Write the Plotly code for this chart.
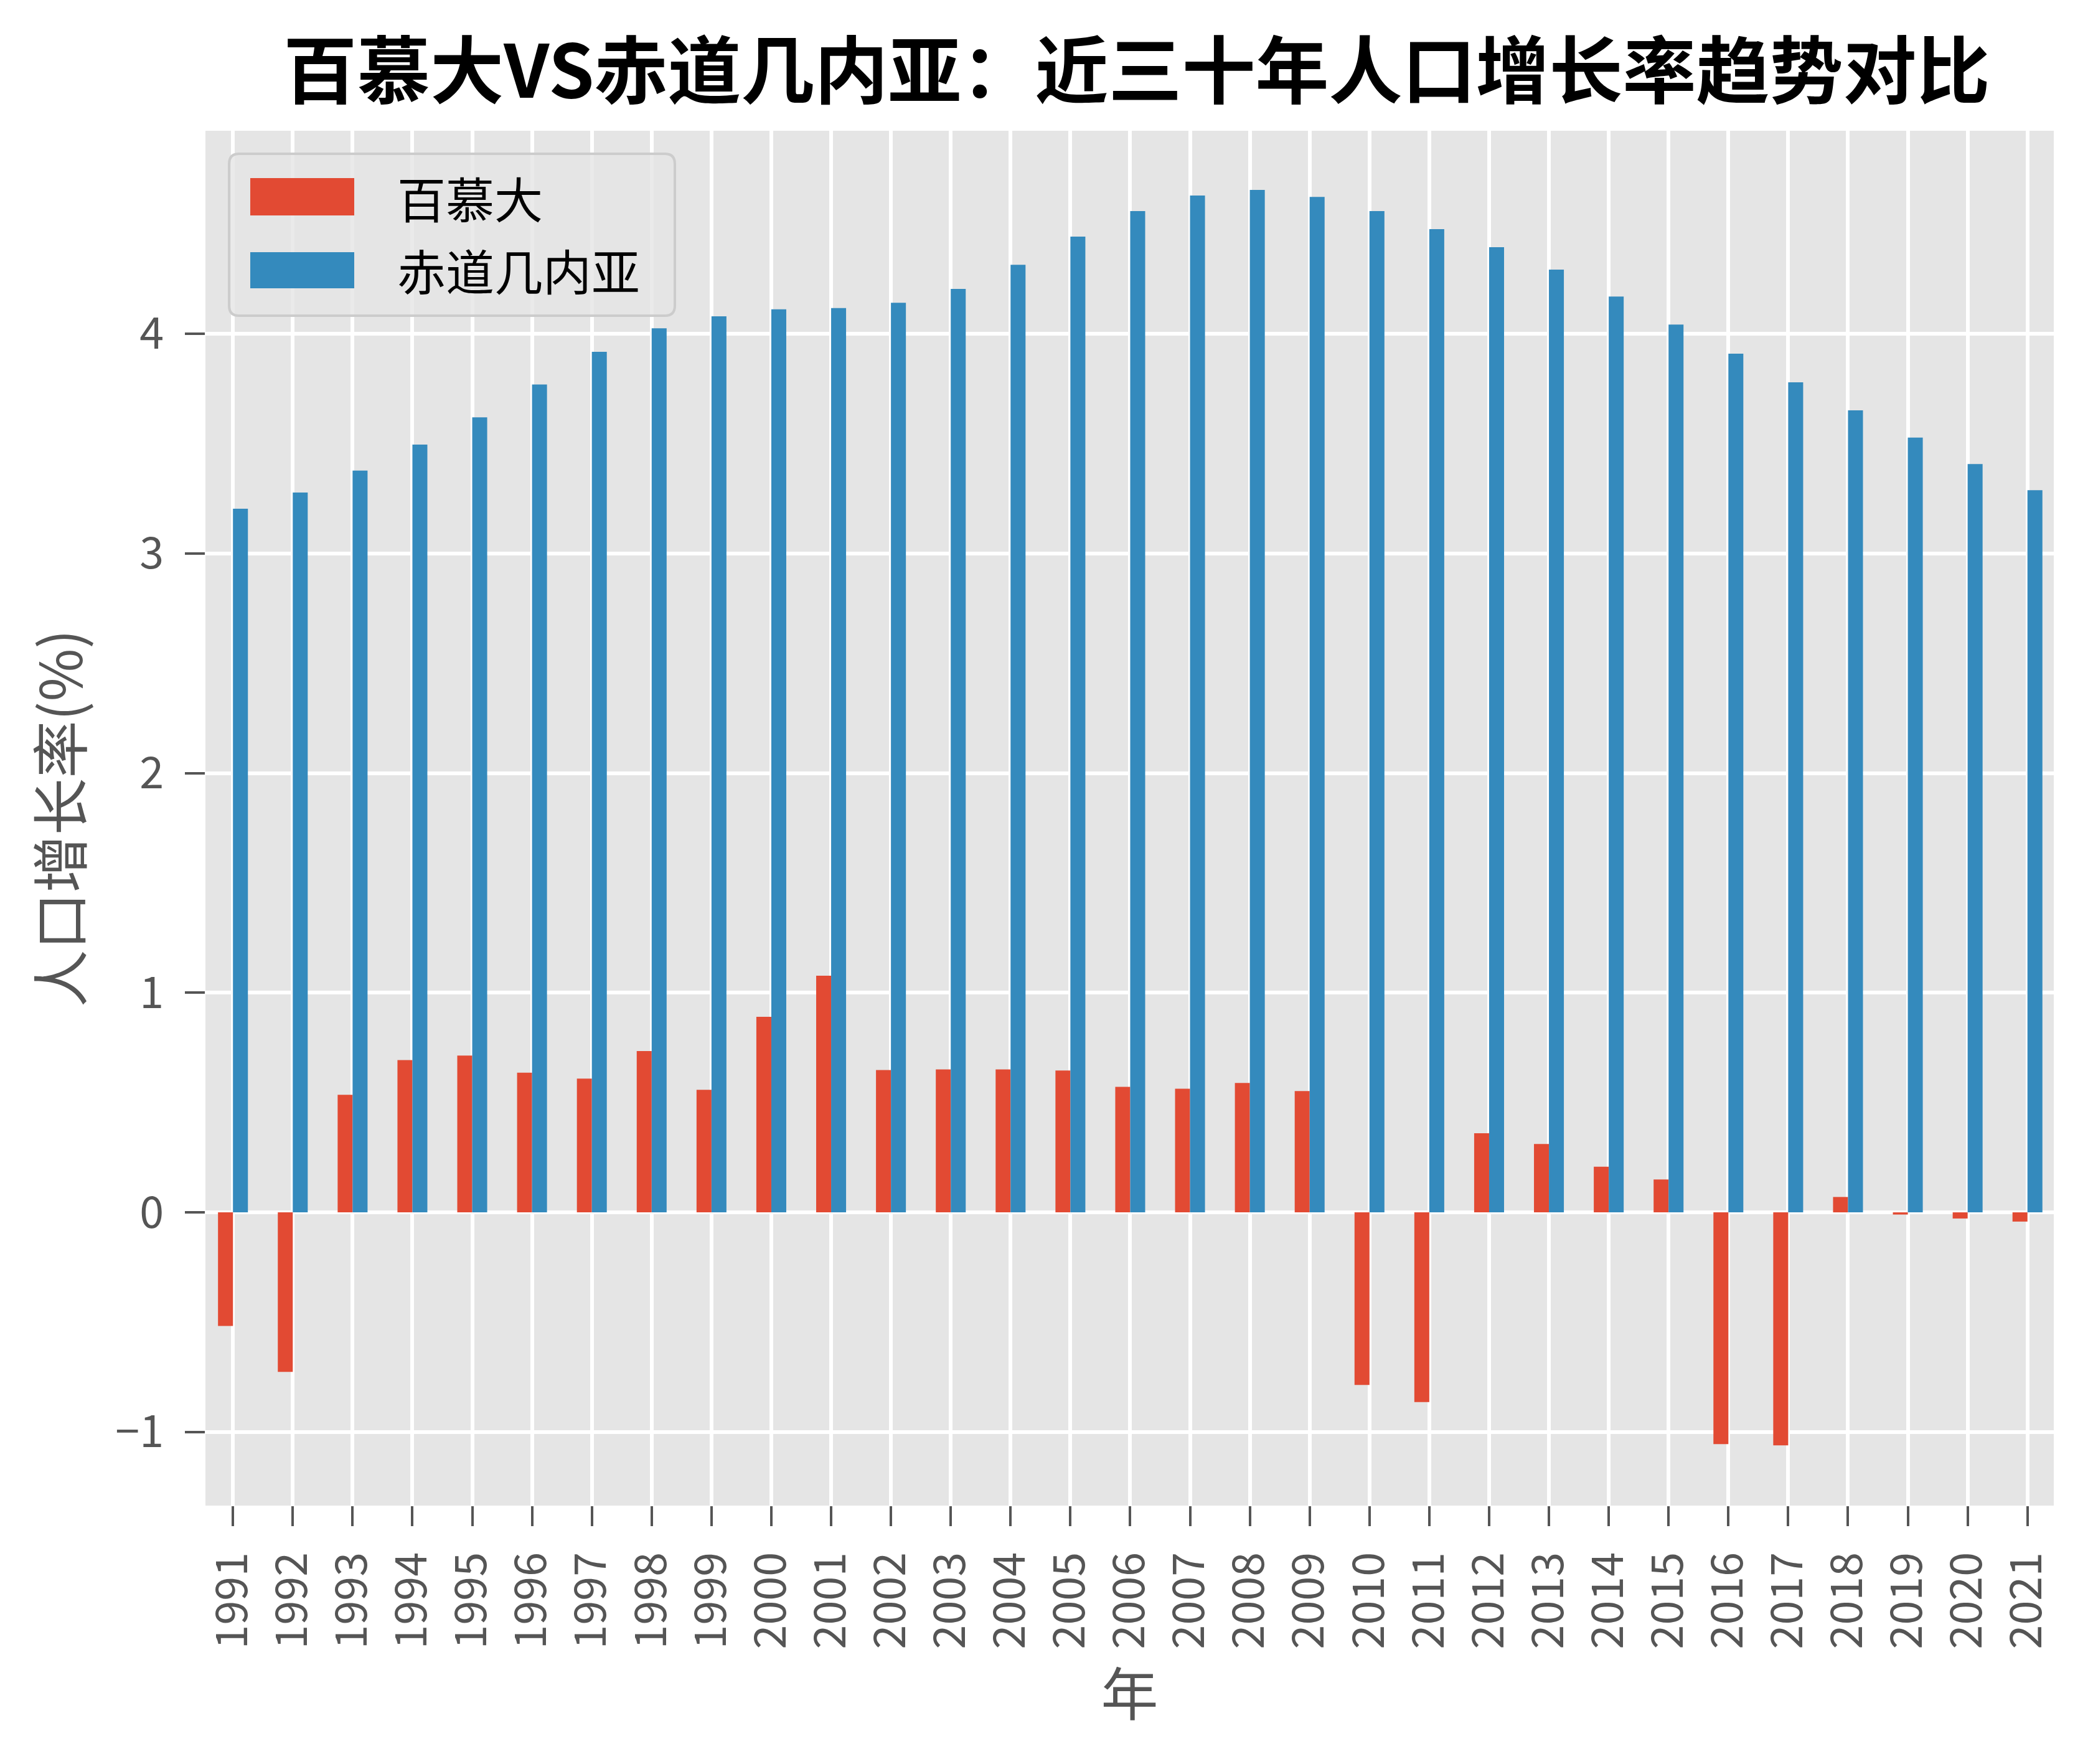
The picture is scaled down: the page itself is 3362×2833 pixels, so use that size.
import plotly.graph_objects as go

# ---------------- data ----------------
years = [str(y) for y in range(1991, 2022)]
bermuda = [-0.517, -0.726, 0.535, 0.693, 0.714, 0.636, 0.609, 0.734, 0.558, 0.890,
           1.077, 0.648, 0.651, 0.651, 0.646, 0.571, 0.563, 0.589, 0.552, -0.786,
           -0.864, 0.360, 0.311, 0.208, 0.150, -1.055, -1.061, 0.070, -0.010, -0.028,
           -0.042]
eq_guinea = [3.203, 3.277, 3.377, 3.495, 3.619, 3.769, 3.918, 4.025, 4.079, 4.111,
             4.117, 4.141, 4.204, 4.314, 4.442, 4.558, 4.629, 4.655, 4.623, 4.558,
             4.476, 4.394, 4.292, 4.169, 4.042, 3.909, 3.779, 3.651, 3.527, 3.407,
             3.288]
series_names = ["百慕大", "赤道几内亚"]
series_colors = ["#E24A33", "#348ABD"]
y_ticks = [-1, 0, 1, 2, 3, 4]

title_text = "百慕大VS赤道几内亚：近三十年人口增长率趋势对比"
x_title = "年"
y_title = "人口增长率(%)"

# ---------------- layout geometry (page pixels) ----------------
W, H = 3362, 2833
OFF = 8  # default body margin of the html page
PL, PR, PT, PB = 330, 3299, 210, 2418
FONT = "Noto Sans CJK SC"


def px_x(px):
    return (px - PL) / (PR - PL)


def px_y(py):
    return (PB - py) / (PB - PT)


fig = go.Figure()
for name, vals, col in zip(series_names, [bermuda, eq_guinea], series_colors):
    fig.add_trace(go.Bar(x=years, y=vals, name=name, marker=dict(color=col, line=dict(width=0)),
                         showlegend=False))

# custom legend (box, swatches, labels)
bx0, bx1, by0, by1, r = 368, 1084, 247, 507, 16
X0, X1 = px_x(bx0), px_x(bx1)
Y0, Y1 = px_y(by1), px_y(by0)
rx = r / (PR - PL)
ry = r / (PB - PT)
path = (f"M{X0+rx},{Y1} L{X1-rx},{Y1} Q{X1},{Y1} {X1},{Y1-ry} "
        f"L{X1},{Y0+ry} Q{X1},{Y0} {X1-rx},{Y0} L{X0+rx},{Y0} "
        f"Q{X0},{Y0} {X0},{Y0+ry} L{X0},{Y1-ry} Q{X0},{Y1} {X0+rx},{Y1} Z")
shapes = [dict(type="path", xref="paper", yref="paper", path=path,
               fillcolor="rgba(229,229,229,0.8)", line=dict(color="#CCCCCC", width=4),
               layer="above")]
annotations = []
rows = [(286, 346, 317), (405, 463, 433)]
for (sy0, sy1, ty), name, col in zip(rows, series_names, series_colors):
    shapes.append(dict(type="rect", xref="paper", yref="paper",
                       x0=px_x(402), x1=px_x(569), y0=px_y(sy1), y1=px_y(sy0),
                       fillcolor=col, line=dict(width=0), layer="above"))
    annotations.append(dict(xref="paper", yref="paper", x=px_x(636), y=px_y(ty),
                            text=name, showarrow=False, xanchor="left", yanchor="middle",
                            font=dict(family=FONT, size=78, color="#000000")))

fig.update_layout(
    width=W, height=H,
    margin=dict(l=PL - OFF, r=W - (PR - OFF), t=PT - OFF, b=H - (PB - OFF), pad=0),
    paper_bgcolor="white",
    plot_bgcolor="#E5E5E5",
    barmode="group", bargap=0.5, bargroupgap=0,
    title=dict(text=title_text, x=(1826 - OFF) / W, xref="container", xanchor="center",
               y=1 - (116 - OFF) / H, yref="container", yanchor="middle",
               font=dict(family=FONT, size=118, color="#000000", weight="bold")),
    font=dict(family=FONT, color="#555555"),
    shapes=shapes,
    annotations=annotations,
)
fig.update_xaxes(
    type="category", range=[-0.46, 30.44],
    showgrid=True, gridcolor="white", gridwidth=6,
    ticks="outside", ticklen=32, tickwidth=4, tickcolor="#555555",
    tickangle=-90, tickfont=dict(family=FONT, size=70, color="#555555"),
    ticklabelstandoff=14,
    title=dict(text=x_title, font=dict(family=FONT, size=92, color="#555555"), standoff=20),
    showline=False, zeroline=False,
)
fig.update_yaxes(
    range=[-1.335, 4.924], tickvals=y_ticks,
    showgrid=True, gridcolor="white", gridwidth=6,
    ticks="outside", ticklen=32, tickwidth=4, tickcolor="#555555",
    tickfont=dict(family=FONT, size=70, color="#555555"),
    ticklabelstandoff=20,
    title=dict(text=y_title, font=dict(family=FONT, size=92, color="#555555"), standoff=22),
    showline=False, zeroline=False,
)

fig.write_html("out.html")
